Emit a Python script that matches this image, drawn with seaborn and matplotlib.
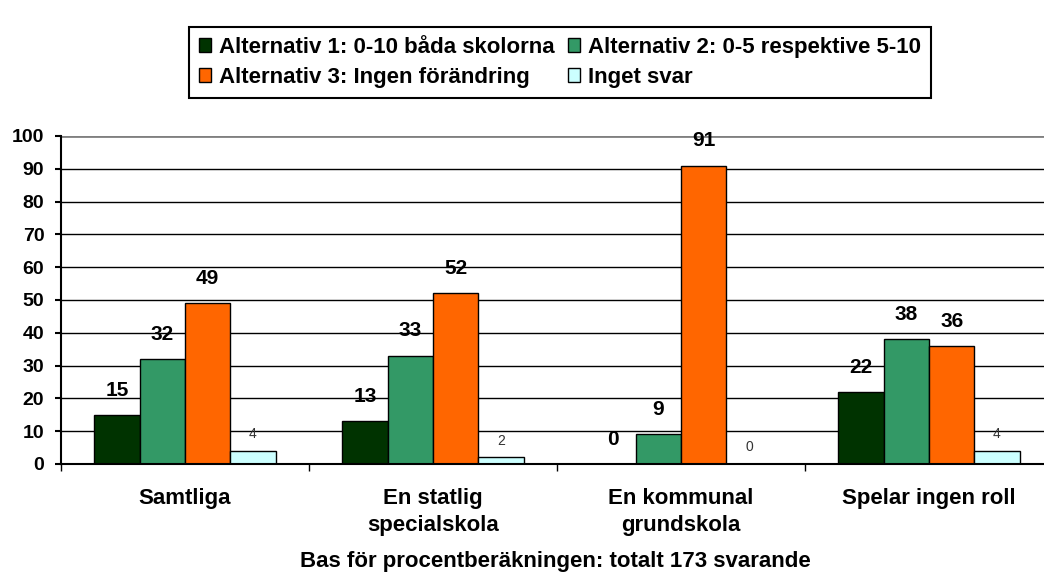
import pandas as pd
import numpy as np
import matplotlib.pyplot as plt
import seaborn as sns
from matplotlib.patches import Patch

# Data
grupper = ['Samtliga', 'En statlig\nspecialskola', 'En kommunal\ngrundskola', 'Spelar ingen roll']
svar = ['Alternativ 1: 0-10 båda skolorna', 'Alternativ 2: 0-5 respektive 5-10',
        'Alternativ 3: Ingen förändring', 'Inget svar']
alt1 = [15, 13, 0, 22]
alt2 = [32, 33, 9, 38]
alt3 = [49, 52, 91, 36]
inget = [4, 2, 0, 4]
colors = ['#003300', '#339966', '#FF6600', '#CCFFFF']

rows = []
for s, vals in zip(svar, [alt1, alt2, alt3, inget]):
    for g, v in zip(grupper, vals):
        rows.append({'grupp': g, 'svar': s, 'andel': v})
df = pd.DataFrame(rows)

sns.set_style('white')
plt.rcParams['font.family'] = ['Liberation Sans', 'DejaVu Sans']
plt.rcParams['font.weight'] = 'bold'
plt.rcParams['text.color'] = 'black'
plt.rcParams['xtick.color'] = 'black'
plt.rcParams['ytick.color'] = 'black'
plt.rcParams['axes.labelcolor'] = 'black'

fig = plt.figure(figsize=(10.44, 5.79), dpi=100)
ax = fig.add_axes([61 / 1044, 115 / 579, 992 / 1044, 328 / 579])

# Gridlines behind bars
for y in range(10, 100, 10):
    ax.axhline(y, color='black', lw=1, zorder=0)
ax.axhline(100, color='#808080', lw=2, zorder=0)

sns.barplot(data=df, x='grupp', y='andel', hue='svar', hue_order=svar, order=grupper,
            palette=colors, width=0.73, edgecolor='black', linewidth=1,
            saturation=1, legend=False, ax=ax, zorder=2)

# Value labels
for i, cont in enumerate(ax.containers):
    if i < 3:
        ax.bar_label(cont, fmt='%d', padding=11, fontsize=15, fontweight='bold', color='black')
    else:
        ax.bar_label(cont, fmt='%d', padding=7, fontsize=10, fontweight='normal', color='#333333')

ax.set_xlim(-0.5, 3.5)
ax.set_ylim(0, 100)
ax.set_yticks(range(0, 101, 10))
ax.tick_params(axis='y', labelsize=14, length=4, width=1.5, color='black', direction='out', left=True, pad=8)
ax.set_xticks(range(4))
ax.set_xticklabels(grupper, fontsize=16, fontweight='bold', linespacing=1.4)
ax.tick_params(axis='x', length=0, pad=17)
ax.set_xticks([-0.5, 0.5, 1.5, 2.5], minor=True)
ax.tick_params(axis='x', which='minor', length=5, width=1, color='black', direction='out', bottom=True)
for lab in ax.get_yticklabels():
    lab.set_fontweight('bold')

ax.set_xlabel('')
ax.set_ylabel('')
for side in ['top', 'right']:
    ax.spines[side].set_visible(False)
ax.spines['left'].set_color('black')
ax.spines['left'].set_linewidth(1.5)
ax.spines['bottom'].set_color('black')
ax.spines['bottom'].set_linewidth(1.5)

fig.text(555 / 1044, 1 - 561 / 579, 'Bas för procentberäkningen: totalt 173 svarande',
         ha='center', va='center', fontsize=16, fontweight='bold')

# Legend, row-wise order
handles = [Patch(facecolor=c, edgecolor='black', linewidth=1) for c in colors]
order = [0, 2, 1, 3]
leg = fig.legend([handles[i] for i in order], [svar[i] for i in order],
                 ncol=2, loc='upper center', bbox_to_anchor=(560 / 1044, 1 - 27 / 579),
                 frameon=True, fancybox=False, edgecolor='black', framealpha=1,
                 prop={'size': 16, 'weight': 'bold'}, handlelength=0.55, handleheight=0.55,
                 handletextpad=0.35, columnspacing=0.6, borderpad=0.45, labelspacing=0.4,
                 borderaxespad=0)
leg.get_frame().set_linewidth(1.5)

fig.savefig('out.png', dpi=100)
